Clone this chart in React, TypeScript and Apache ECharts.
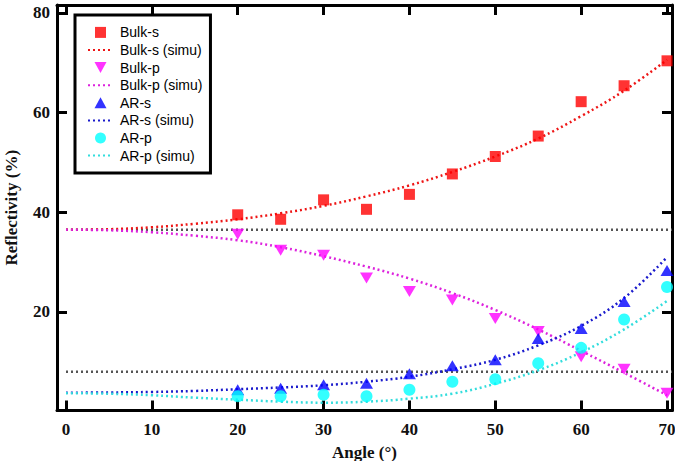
import React, { useEffect, useRef } from "react";
import * as echarts from "echarts";

const angles = [20, 25, 30, 35, 40, 45, 50, 55, 60, 65, 70];
const bulkS = [39.5, 38.6, 42.5, 40.6, 43.6, 47.7, 51.2, 55.3, 62.2, 65.4, 70.4];
const bulkP = [35.6, 32.4, 31.4, 26.8, 24.1, 22.4, 18.7, 16.1, 11.0, 8.5, 3.7];
const arS = [4.4, 4.7, 5.4, 5.7, 7.6, 9.2, 10.4, 14.7, 16.7, 22.1, 28.3];
const arP = [3.1, 3.1, 3.4, 3.1, 4.4, 6.0, 6.5, 9.7, 12.8, 18.5, 25.0];

const simAngles = [0, 5, 10, 15, 20, 25, 30, 35, 40, 45, 50, 55, 60, 65, 70];
const bulkSSim = [36.5, 36.6, 37.0, 37.7, 38.6, 39.8, 41.3, 43.2, 45.4, 48.1, 51.2, 54.8, 59.3, 64.4, 70.6];
const bulkPSim = [36.5, 36.4, 36.0, 35.3, 34.4, 33.0, 31.2, 29.1, 26.7, 23.8, 20.4, 16.5, 12.2, 7.8, 3.3];
const arSSim = [3.8, 3.85, 3.95, 4.15, 4.5, 4.85, 5.3, 6.0, 7.0, 8.5, 10.4, 13.3, 17.2, 22.8, 31.0];
const arPSim = [3.7, 3.6, 3.3, 2.8, 2.4, 2.0, 1.8, 2.0, 2.6, 3.6, 5.6, 8.3, 11.9, 16.5, 22.2];

const refLevels = [36.5, 8.0];
const refSpan = [0, 70.58];

const xTicks = [0, 10, 20, 30, 40, 50, 60, 70];
const yTicks = [20, 40, 60, 80];
const X_MIN = -1.048;
const X_MAX = 70.58;
const Y_MIN = 0.23;
const Y_MAX = 81.6;

const zip = (xs: number[], ys: number[]) => xs.map((x, i) => [x, ys[i]]);

const DOT = [2, 3];
const SQUARE = "path://M0,0 L10,0 L10,10 L0,10 Z";
const TRI_UP = "path://M6,0 L12,11 L0,11 Z";
const TRI_DOWN = "path://M0,0 L12,0 L6,11 Z";

export default function App() {
  const ref = useRef<HTMLDivElement>(null);
  useEffect(() => {
    if (!ref.current) return;
    const chart = echarts.init(ref.current, undefined, { renderer: "svg" });
    const labelFont = {
      fontFamily: "Liberation Serif",
      fontWeight: "bold" as const,
      fontSize: 17,
      color: "#111",
    };
    const axisCommon = {
      axisLine: { show: true, onZero: false, lineStyle: { color: "#000", width: 3 } },
      axisTick: { show: true, inside: true, length: 10, lineStyle: { color: "#000", width: 3 } },
      splitLine: { show: false },
    };
    const scatter = (name: string, ys: number[], symbol: string, size: any, color: string) => ({
      name,
      type: "scatter",
      data: zip(angles, ys),
      symbol,
      symbolSize: size,
      itemStyle: { color },
      z: 5,
    });
    const sim = (name: string, ys: number[], color: string) => ({
      name,
      type: "line",
      data: zip(simAngles, ys),
      smooth: 0.4,
      symbol: "circle",
      symbolSize: 1,
      showSymbol: false,
      lineStyle: { color, width: 2.5, type: DOT },
      itemStyle: { color, opacity: 0 },
      z: 3,
    });
    const refLine = (lvl: number) => ({
      type: "line",
      data: refSpan.map((x) => [x, lvl]),
      symbol: "none",
      lineStyle: { color: "#555", width: 2.5, type: DOT },
      z: 2,
      silent: true,
    });
    chart.setOption({
      animation: false,
      backgroundColor: "#fff",
      grid: { left: 57, right: 3, top: 5, bottom: 50.5, containLabel: false, outerBoundsMode: "none" },
      legend: {
        left: 75,
        top: 15,
        orient: "vertical",
        itemWidth: 25,
        itemHeight: 11,
        itemGap: 3.6,
        symbolKeepAspect: true,
        padding: [10.4, 8, 10.4, 12],
        borderColor: "#000",
        borderWidth: 3,
        backgroundColor: "#fff",
        textStyle: { fontFamily: "Liberation Sans", fontSize: 14, color: "#000", lineHeight: 14, padding: [0, 0, 0, 2] },
        data: [
          { name: "Bulk-s", icon: SQUARE },
          { name: "Bulk-s (simu)" },
          { name: "Bulk-p", icon: TRI_DOWN },
          { name: "Bulk-p (simu)" },
          { name: "AR-s", icon: TRI_UP },
          { name: "AR-s (simu)" },
          { name: "AR-p", icon: "circle" },
          { name: "AR-p (simu)" },
        ],
      },
      xAxis: [
        {
          type: "value",
          min: X_MIN,
          max: X_MAX,
          position: "bottom",
          ...axisCommon,
          axisTick: { ...axisCommon.axisTick, customValues: xTicks },
          axisLabel: { ...labelFont, margin: 10, customValues: xTicks },
          name: "Angle (°)",
          nameLocation: "middle",
          nameGap: 33,
          nameTextStyle: labelFont,
        },
        {
          type: "value",
          min: X_MIN,
          max: X_MAX,
          position: "top",
          ...axisCommon,
          axisTick: { ...axisCommon.axisTick, customValues: xTicks },
          axisLabel: { show: false },
        },
      ],
      yAxis: [
        {
          type: "value",
          min: Y_MIN,
          max: Y_MAX,
          position: "left",
          ...axisCommon,
          axisTick: { ...axisCommon.axisTick, customValues: yTicks },
          axisLabel: { ...labelFont, margin: 7, customValues: yTicks },
          name: "Reflectivity (%)",
          nameLocation: "middle",
          nameGap: 37,
          nameTextStyle: labelFont,
        },
        {
          type: "value",
          min: Y_MIN,
          max: Y_MAX,
          position: "right",
          ...axisCommon,
          axisTick: { ...axisCommon.axisTick, customValues: yTicks },
          axisLabel: { show: false },
        },
      ],
      series: [
        refLine(refLevels[0]),
        refLine(refLevels[1]),
        scatter("Bulk-s", bulkS, SQUARE, 11, "#ff0000"),
        sim("Bulk-s (simu)", bulkSSim, "#ee1515"),
        scatter("Bulk-p", bulkP, TRI_DOWN, [13, 11], "#ff00ff"),
        sim("Bulk-p (simu)", bulkPSim, "#dd22dd"),
        scatter("AR-s", arS, TRI_UP, [13, 11], "#0000ff"),
        sim("AR-s (simu)", arSSim, "#1a1acc"),
        scatter("AR-p", arP, "circle", 12, "#00ffff"),
        sim("AR-p (simu)", arPSim, "#33dddd"),
      ],
    });
    return () => chart.dispose();
  }, []);
  return <div ref={ref} style={{ width: 675, height: 461, position: "absolute", left: 0, top: 0 }} />;
}
